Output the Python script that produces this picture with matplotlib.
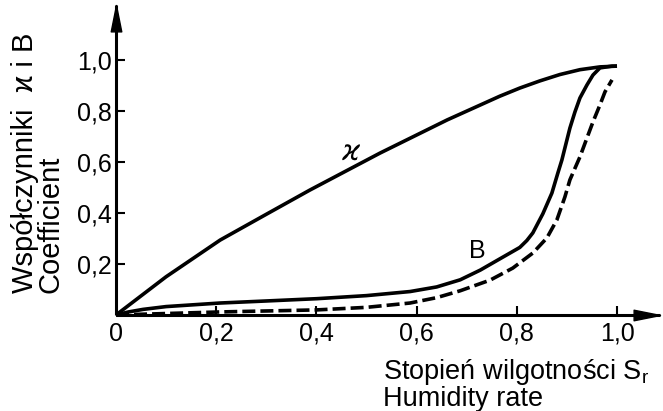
import matplotlib
matplotlib.use("Agg")
import matplotlib.pyplot as plt
from matplotlib.path import Path

plt.rcParams['font.family'] = ['Liberation Sans', 'DejaVu Sans']
plt.rcParams['mathtext.fontset'] = 'custom'
plt.rcParams['mathtext.rm'] = 'Liberation Sans'
plt.rcParams['mathtext.it'] = 'Liberation Sans'

# --- data ---
kappa_x = [0.0, 0.10, 0.208, 0.30, 0.387, 0.527, 0.661, 0.766, 0.806, 0.846, 0.886, 0.926, 0.966, 1.0]
kappa_y = [0.0, 0.150, 0.294, 0.395, 0.490, 0.635, 0.765, 0.858, 0.890, 0.918, 0.943, 0.962, 0.973, 0.976]

b_x = [0.0, 0.025, 0.054, 0.10, 0.208, 0.30, 0.401, 0.50, 0.587, 0.640, 0.687, 0.727, 0.766, 0.806,
       0.820, 0.832, 0.852, 0.870, 0.882, 0.890, 0.896, 0.906, 0.916, 0.926, 0.940, 0.952, 0.966, 0.990, 1.0]
b_y = [0.0, 0.012, 0.022, 0.033, 0.047, 0.055, 0.064, 0.076, 0.092, 0.110, 0.138, 0.176, 0.220, 0.265,
       0.292, 0.322, 0.397, 0.478, 0.557, 0.608, 0.655, 0.733, 0.796, 0.851, 0.902, 0.941, 0.969, 0.976, 0.976]

d_x = [0.0, 0.208, 0.401, 0.50, 0.587, 0.640, 0.687, 0.747, 0.792, 0.832, 0.860, 0.880, 0.896, 0.906,
       0.916, 0.926, 0.940, 0.952, 0.966, 0.976, 0.990]
d_y = [0.0, 0.012, 0.020, 0.030, 0.047, 0.068, 0.095, 0.137, 0.184, 0.243, 0.302, 0.373, 0.463, 0.530,
       0.575, 0.620, 0.694, 0.757, 0.824, 0.875, 0.922]

xticks = [0.0, 0.2, 0.4, 0.6, 0.8, 1.0]
xtick_labels = ['0', '0,2', '0,4', '0,6', '0,8', '1,0']
yticks = [0.2, 0.4, 0.6, 0.8, 1.0]
ytick_labels = ['0,2', '0,4', '0,6', '0,8', '1,0']

W, H = 663, 411
fig = plt.figure(figsize=(W / 100, H / 100), dpi=100)
x0, x1 = 116, 660
y0, y1 = 315, 5
ax = fig.add_axes([x0 / W, (H - y0) / H, (x1 - x0) / W, (y0 - y1) / H])
ax.set_xlim(0, (x1 - x0) / 501)
ax.set_ylim(0, (y0 - y1) / 255)

lw = 2.6
ax.plot(kappa_x, kappa_y, color='black', lw=lw, solid_joinstyle='round', solid_capstyle='butt', clip_on=False)
ax.plot(b_x, b_y, color='black', lw=lw, solid_joinstyle='round', solid_capstyle='butt', clip_on=False)
ax.plot(d_x, d_y, color='black', lw=lw, linestyle=(0, (3.6, 1.4)), clip_on=False)

ax.text(0.467, 0.64, 'ϰ', fontsize=20, family=['DejaVu Sans'], style='italic',
        ha='center', va='center')
ax.text(0.722, 0.25, 'B', fontsize=18, ha='center', va='center')

for s in ['top', 'right']:
    ax.spines[s].set_visible(False)
for s in ['left', 'bottom']:
    ax.spines[s].set_linewidth(2.2)
    ax.spines[s].set_capstyle('butt')

ax.set_xticks(xticks)
ax.set_xticklabels(xtick_labels)
ax.set_yticks(yticks)
ax.set_yticklabels(ytick_labels)
ax.tick_params(axis='both', direction='in', length=6.5, width=1.5, labelsize=18, color='black')
ax.tick_params(axis='x', pad=5)
ax.tick_params(axis='y', pad=3)
ax.xaxis.get_major_ticks()[0].tick1line.set_visible(False)

# arrowheads
tri_up = Path([(0, 0), (-0.2, -1), (0.2, -1), (0, 0)], [1, 2, 2, 79])
tri_right = Path([(0, 0), (-1, -0.2), (-1, 0.2), (0, 0)], [1, 2, 2, 79])
ax.plot([0], [1], marker=tri_up, markersize=38, color='black', transform=ax.transAxes, clip_on=False)
ax.plot([1], [0], marker=tri_right, markersize=38, color='black', transform=ax.transAxes, clip_on=False)

# axis labels
fig.text(33 / W, (H - 293) / H, 'Współczynniki  ϰ i B', rotation=90, fontsize=21,
         ha='left', va='baseline', rotation_mode='anchor')
fig.text(59 / W, (H - 293) / H, 'Coefficient', rotation=90, fontsize=21,
         ha='left', va='baseline', rotation_mode='anchor')
fig.text(383 / W, (H - 379) / H, 'Stopień wilgotności S$_\\mathrm{r}$', fontsize=19.5,
         ha='left', va='baseline')
fig.text(383 / W, (H - 406) / H, 'Humidity rate', fontsize=19.5, ha='left', va='baseline')

fig.savefig('out.png', dpi=100)
